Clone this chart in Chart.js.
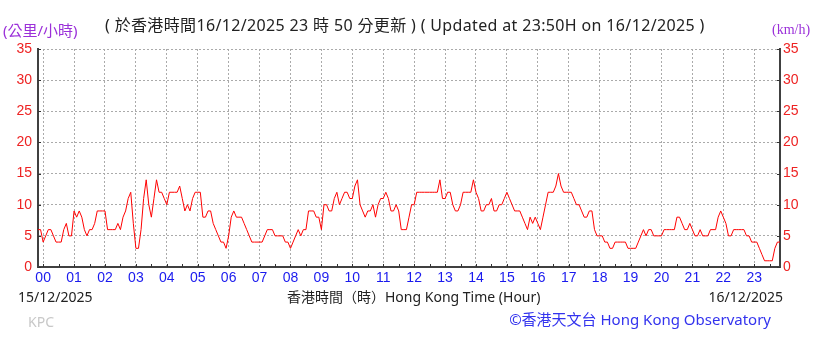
<!DOCTYPE html>
<html>
<head>
<meta charset="utf-8">
<script src="https://cdn.jsdelivr.net/npm/chart.js@4/dist/chart.umd.min.js"></script>
<style>
  html, body { margin: 0; padding: 0; background: #fff; }
  #wrap { position: relative; width: 825px; height: 352px; overflow: hidden; }
  #chart { position: absolute; left: 0; top: 0; }
  .txt { position: absolute; white-space: nowrap; font-family: "Noto Sans", "Noto Sans CJK TC", sans-serif; }
</style>
</head>
<body>
<div id="wrap">
  <canvas id="chart" width="825" height="352"></canvas>
  <div class="txt" style="left:3px; top:20px; font-size:15px; line-height:20px; color:#9b30d9;">(公里/小時)</div>
  <div class="txt" style="left:105px; top:14px; font-size:16px; line-height:22px; letter-spacing:0.35px; color:#222;">( 於香港時間16/12/2025 23 時 50 分更新 ) ( Updated at 23:50H on 16/12/2025 )</div>
  <div class="txt" style="left:772px; top:21px; font-size:14px; line-height:18px; color:#9b30d9; font-family:'Liberation Serif', 'DejaVu Serif', serif;">(km/h)</div>
  <div class="txt" style="left:18px; top:288px; font-size:14px; line-height:18px; color:#222;">15/12/2025</div>
  <div class="txt" style="left:287px; top:288px; font-size:14px; line-height:18px; color:#222;">香港時間（時）Hong Kong Time (Hour)</div>
  <div class="txt" style="right:42px; top:288px; font-size:14px; line-height:18px; color:#222;">16/12/2025</div>
  <div class="txt" style="left:28px; top:313px; font-size:14px; line-height:18px; color:#c8c8c8;">KPC</div>
  <div class="txt" style="right:54px; top:309px; font-size:15px; line-height:20px; color:#3333ee;">©香港天文台 Hong Kong Observatory</div>
</div>
<script>
// 10-minute mean wind speed (km/h), one reading every 5 minutes from 23:50 (15/12) to 23:50 (16/12)
const startMinute = -10;
const stepMinutes = 5;
const windSpeed = [
  6, 6, 4, 5, 6, 6, 5, 4, 4, 4,
  6, 7, 5, 5, 9, 8, 9, 8, 6, 5,
  6, 6, 7, 9, 9, 9, 9, 6, 6, 6,
  6, 7, 6, 8, 9, 11, 12, 7, 3, 3,
  6, 11, 14, 10, 8, 11, 14, 12, 12, 11,
  10, 12, 12, 12, 12, 13, 11, 9, 10, 9,
  11, 12, 12, 12, 8, 8, 9, 9, 7, 6,
  5, 4, 4, 3, 5, 8, 9, 8, 8, 8,
  7, 6, 5, 4, 4, 4, 4, 4, 5, 6,
  6, 6, 5, 5, 5, 5, 4, 4, 3, 4,
  5, 6, 5, 6, 6, 9, 9, 9, 8, 8,
  6, 10, 10, 9, 9, 11, 12, 10, 11, 12,
  12, 11, 11, 13, 14, 10, 9, 8, 9, 9,
  10, 8, 10, 11, 11, 12, 11, 9, 9, 10,
  9, 6, 6, 6, 8, 10, 10, 12, 12, 12,
  12, 12, 12, 12, 12, 12, 14, 11, 11, 12,
  12, 10, 9, 9, 10, 12, 12, 12, 12, 14,
  12, 11, 9, 9, 10, 10, 11, 9, 9, 10,
  10, 11, 12, 11, 10, 9, 9, 9, 8, 7,
  6, 8, 7, 8, 7, 6, 8, 10, 12, 12,
  12, 13, 15, 13, 12, 12, 12, 12, 11, 10,
  10, 9, 8, 8, 9, 9, 6, 5, 5, 5,
  4, 4, 3, 3, 4, 4, 4, 4, 4, 3,
  3, 3, 3, 4, 5, 6, 5, 6, 6, 5,
  5, 5, 5, 6, 6, 6, 6, 6, 8, 8,
  7, 6, 6, 7, 6, 5, 5, 6, 5, 5,
  5, 6, 6, 6, 8, 9, 8, 7, 5, 5,
  6, 6, 6, 6, 6, 5, 5, 4, 4, 4,
  3, 2, 1, 1, 1, 1, 3, 4, 4
];
const hourLabels = ['00','01','02','03','04','05','06','07','08','09','10','11',
                    '12','13','14','15','16','17','18','19','20','21','22','23'];
const yTicks = [0, 5, 10, 15, 20, 25, 30, 35];

const points = windSpeed.map((v, i) => ({ x: startMinute + i * stepMinutes, y: v }));
const endMinute = startMinute + (windSpeed.length - 1) * stepMinutes;

// small inward tick marks on the frame
const frameTicks = {
  id: 'frameTicks',
  afterDraw(chart) {
    const { ctx, chartArea, scales } = chart;
    ctx.save();
    ctx.strokeStyle = '#333';
    ctx.lineWidth = 1;
    ctx.beginPath();
    for (let m = 0; m <= endMinute; m += 30) {
      const x = Math.round(scales.x.getPixelForValue(m)) + 0.5;
      ctx.moveTo(x, chartArea.bottom);
      ctx.lineTo(x, chartArea.bottom - 3);
    }
    yTicks.forEach(v => {
      const y = Math.round(scales.y.getPixelForValue(v)) + 0.5;
      ctx.moveTo(chartArea.left, y);
      ctx.lineTo(chartArea.left + 3, y);
      ctx.moveTo(chartArea.right, y);
      ctx.lineTo(chartArea.right - 3, y);
    });
    ctx.stroke();
    ctx.restore();
  }
};

new Chart(document.getElementById('chart').getContext('2d'), {
  type: 'line',
  data: {
    datasets: [{
      data: points,
      borderColor: '#ff0000',
      borderWidth: 1,
      pointRadius: 0,
      tension: 0,
      fill: false
    }]
  },
  options: {
    responsive: false,
    animation: false,
    devicePixelRatio: 1,
    layout: { padding: { top: 49, left: 0, right: 0, bottom: 0 } },
    plugins: { legend: { display: false }, tooltip: { enabled: false } },
    scales: {
      x: {
        type: 'linear',
        min: startMinute,
        max: endMinute,
        afterBuildTicks: s => { s.ticks = hourLabels.map((_, h) => ({ value: h * 60 })); },
        afterFit: s => { s.height = 85; },
        ticks: {
          autoSkip: false,
          maxRotation: 0,
          padding: 3,
          color: '#1a1aee',
          font: { family: 'Liberation Sans', size: 14 },
          callback: v => hourLabels[Math.round(v / 60)]
        },
        grid: { color: '#aaaaaa', lineWidth: 1, drawTicks: false },
        border: { display: true, color: '#404040', width: 2, dash: [2, 2] }
      },
      y: {
        position: 'left',
        min: 0,
        max: 35,
        afterBuildTicks: s => { s.ticks = yTicks.map(v => ({ value: v })); },
        afterFit: s => { s.width = 38; },
        ticks: { color: '#ee2222', padding: 6, font: { family: 'Liberation Sans', size: 14 } },
        grid: { color: '#aaaaaa', lineWidth: 1, drawTicks: false },
        border: { display: true, color: '#404040', width: 2, dash: [2, 2] }
      },
      y2: {
        position: 'right',
        min: 0,
        max: 35,
        afterBuildTicks: s => { s.ticks = yTicks.map(v => ({ value: v })); },
        afterFit: s => { s.width = 45; },
        ticks: { color: '#ee2222', padding: 3, font: { family: 'Liberation Sans', size: 14 } },
        grid: { display: false, drawTicks: false },
        border: { display: true, color: '#404040', width: 2 }
      }
    }
  },
  plugins: [frameTicks]
});
</script>
</body>
</html>
